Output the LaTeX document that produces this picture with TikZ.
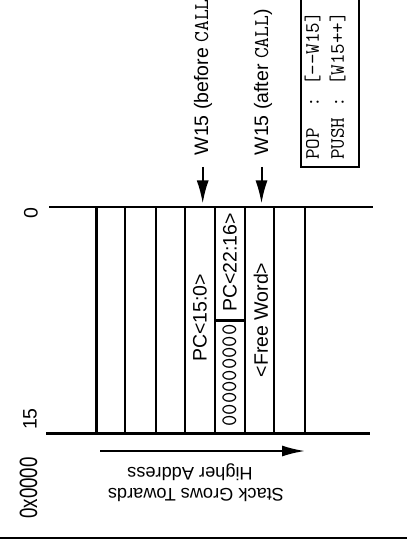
\documentclass[tikz,border=0pt]{standalone}
\usepackage{fontspec}
\usepackage{graphicx}
\setmainfont{Liberation Sans}
\usetikzlibrary{arrows.meta}
\begin{document}
\begin{tikzpicture}[x=1pt,y=-1pt,
  frame/.style={line width=2.3pt},
  lbl/.style={font=\fontsize{19.5}{23}\selectfont, inner sep=0pt, rotate=90},
  mono/.style={font=\fontsize{20.5}{24}\ttfamily, inner sep=0pt, rotate=90},
  flip/.style={font=\fontsize{18.2}{22}\selectfont, inner sep=0pt, rotate=180, anchor=base},
  ptr/.style={line width=2pt, -{Latex[length=23pt,width=12pt]}}]
\useasboundingbox (0,0) rectangle (407,553);
\clip (0,0) rectangle (407,553);
% stack frame
\draw[frame] (49,207) -- (373,207);
\draw[frame] (46,433.5) -- (370,433.5);
\foreach \x in {96.5,125,155.7,184.7,215,245,274.3,305}
  \draw[frame] (\x,207) -- (\x,433.5);
\draw[frame] (215,320.5) -- (245,320.5);
% cell texts
\node[lbl] (pclo) at (200,318) {PC<15:0>};
\node[lbl] (pchi) at (230,262.5) {PC<22:16>};
\node[mono, font=\fontsize{22}{26}\ttfamily] (zeros) at (229.5,375.5) {000000000};
\node[lbl] (free) at (261,320) {<Free Word>};
% bit labels
\node[lbl] (b0) at (31,213) {0};
\node[lbl] (b15) at (30,419) {15};
\node[lbl] (addr) at (28.5,488) {\scalebox{0.75}[1]{\fontsize{25}{30}\selectfont 0x0000}};
% W15 pointers
\node[lbl, anchor=west] (wb) at (203,155.5) {W15 (before {\fontsize{21}{24}\ttfamily CALL}};
\node[lbl, anchor=west] (wa) at (263,155.5) {W15 (after {\fontsize{21}{24}\ttfamily CALL})};
\coordinate (wbs) at (202.7,167);
\coordinate (wbe) at (202.7,203.5);
\coordinate (was) at (261.5,167);
\coordinate (wae) at (261.5,203.5);
\draw[ptr] (wbs) -- (wbe);
\draw[ptr] (was) -- (wae);
% legend box
\draw[line width=2pt] (301,-5) rectangle (359,166.7);
\node[mono, anchor=west] (pop) at (312.5,160) {POP\ \ :\ [-{}-W15]};
\node[mono, anchor=west] (push) at (337.5,160) {PUSH\ :\ [W15++]};
% growth arrow
\coordinate (gs) at (100,451);
\coordinate (ge) at (305,451);
\draw[line width=2pt, -{Latex[length=23pt,width=11pt]}] (gs) -- (ge);
\node[flip] (grow2) at (190,467) {Higher Address};
\node[flip] (grow1) at (196,488.5) {Stack Grows Towards};
% bottom rule
\draw[line width=2.4pt] (0,538) -- (407,538);
\end{tikzpicture}
\end{document}
